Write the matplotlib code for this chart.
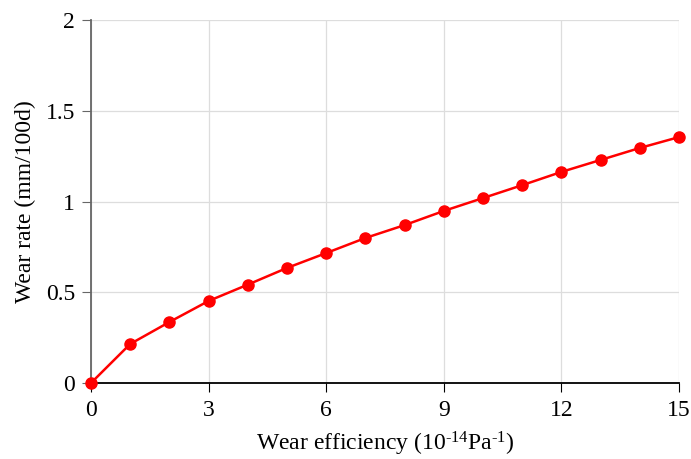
import matplotlib.pyplot as plt

efficiency = [0, 1, 2, 3, 4, 5, 6, 7, 8, 9, 10, 11, 12, 13, 14, 15]
wear_rate = [0, 0.215, 0.336, 0.452, 0.542, 0.634, 0.716, 0.799, 0.870,
             0.948, 1.019, 1.090, 1.163, 1.229, 1.295, 1.355]
xticks = [0, 3, 6, 9, 12, 15]
yticks = [0, 0.5, 1, 1.5, 2]
ytick_labels = ['0', '0.5', '1', '1.5', '2']

plt.rcParams['font.family'] = ['Liberation Serif', 'DejaVu Serif']
plt.rcParams['mathtext.fontset'] = 'custom'
plt.rcParams['mathtext.rm'] = 'Liberation Serif'
plt.rcParams['mathtext.it'] = 'Liberation Serif:italic'

fig = plt.figure(figsize=(6.91, 4.59), dpi=100)
ax = fig.add_axes([0.1317, 0.1656, 0.851, 0.7908])

ax.plot(efficiency, wear_rate, color='#ff0000', lw=1.8, marker='o',
        markersize=8, clip_on=False, zorder=5)

ax.set_xlim(0, 15)
ax.set_ylim(0, 2)
ax.set_xticks(xticks)
ax.set_yticks(yticks)
ax.set_yticklabels(ytick_labels)
ax.grid(True, color='#dddddd', lw=0.9)
ax.set_axisbelow(True)

for s in ['top', 'right']:
    ax.spines[s].set_visible(False)
ax.spines['left'].set_color('#666666')
ax.spines['left'].set_linewidth(1.3)
ax.spines['bottom'].set_color('#000000')
ax.spines['bottom'].set_linewidth(1.3)
ax.tick_params(axis='both', direction='out', length=6.5, labelsize=17)
ax.tick_params(axis='y', color='#666666', pad=5)
ax.tick_params(axis='x', color='#000000', pad=6)

ax.set_xlabel('Wear efficiency (10$^{\\text{-14}}$Pa$^{\\text{-1}}$)',
              fontsize=17, labelpad=6)
ax.set_ylabel('Wear rate (mm/100d)', fontsize=17, labelpad=7)

fig.savefig('out.png', dpi=100)
